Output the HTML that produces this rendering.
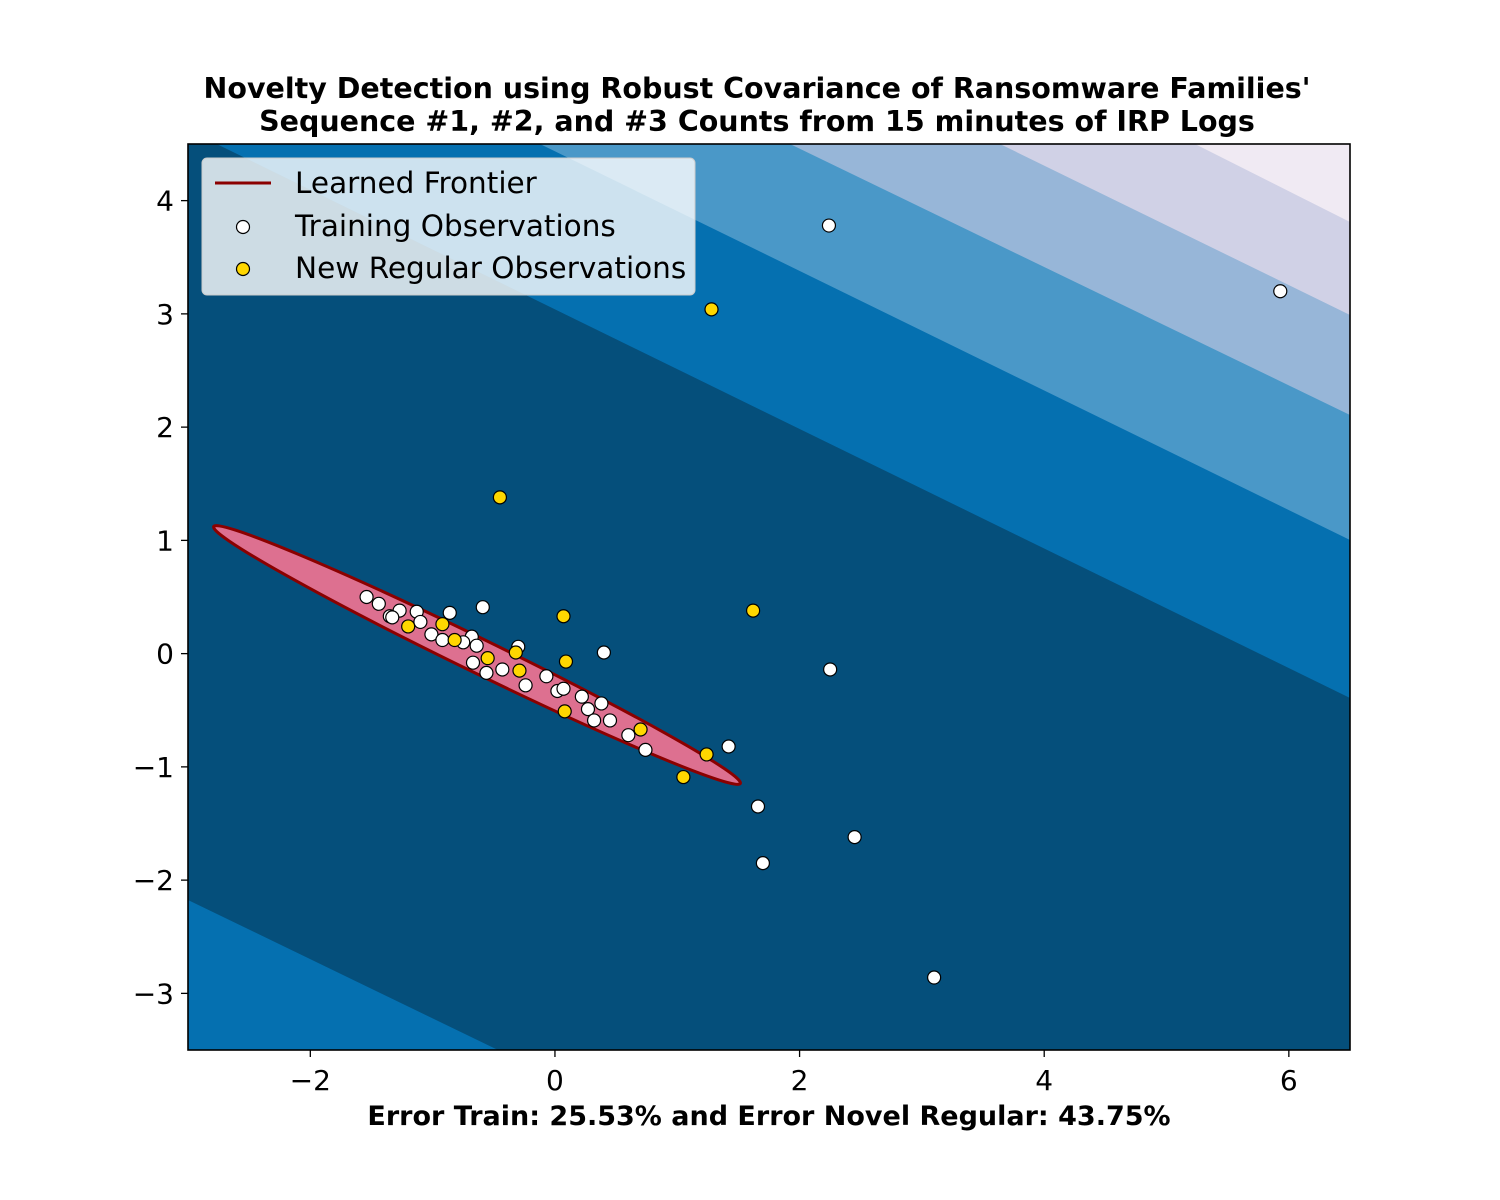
<!DOCTYPE html>
<html><head><meta charset="utf-8"><style>
body{margin:0;background:#fff;}
svg{display:block;font-family:"DejaVu Sans","Liberation Sans",sans-serif;}
</style></head><body>
<svg id="chart" width="1500" height="1200" viewBox="0 0 1500 1200">
<defs><clipPath id="clip"><rect x="188" y="144" width="1162" height="906"/></clipPath></defs>
<text x="757" y="98" text-anchor="middle" font-size="28.5" font-weight="bold">Novelty Detection using Robust Covariance of Ransomware Families'</text>
<text x="757" y="131" text-anchor="middle" font-size="28.5" font-weight="bold">Sequence #1, #2, and #3 Counts from 15 minutes of IRP Logs</text>
<g clip-path="url(#clip)">
<rect x="188" y="144" width="1162" height="906" fill="#054f7b"/>
<polygon points="188,130 188,144 1400,144 1400,722 1350,698" fill="#0570b0"/>
<polygon points="540,144 1400,144 1400,564 1350,540" fill="#4a98c8"/>
<polygon points="790,144 1400,144 1400,439 1350,415" fill="#97b6d8"/>
<polygon points="1000,144 1400,144 1400,339 1350,315" fill="#d0d1e6"/>
<polygon points="1195,144 1400,144 1400,246 1350,222" fill="#f0eaf3"/>
<polygon points="188,900 498,1050 188,1050" fill="#0570b0"/>
<ellipse cx="477" cy="655" rx="293" ry="17" transform="rotate(26 477 655)" fill="#dd7090" stroke="#8b0000" stroke-width="3"/>
<g id="pts"></g>
</g>
<rect x="188" y="144" width="1162" height="906" fill="none" stroke="#000" stroke-width="1.6"/>
<g id="axes"></g>
<g>
<rect x="202" y="158" width="493" height="137" rx="5" fill="#fff" fill-opacity="0.8" stroke="#ccc"/>
<line x1="215" y1="183" x2="271" y2="183" stroke="#8b0000" stroke-width="3"/>
<text x="295" y="193" font-size="29.5">Learned Frontier</text>
<circle cx="243" cy="227" r="6.5" fill="#fff" stroke="#000" stroke-width="1.2"/>
<text x="295" y="236" font-size="29.5">Training Observations</text>
<circle cx="243" cy="269" r="6.5" fill="#ffd700" stroke="#000" stroke-width="1.2"/>
<text x="295" y="278" font-size="29.5">New Regular Observations</text>
</g>
<text x="769" y="1125" text-anchor="middle" font-size="27" font-weight="bold">Error Train: 25.53% and Error Novel Regular: 43.75%</text>
</svg>
<script>
const trainX=[-1.54,-1.44,-1.27,-1.35,-1.13,-1.10,-0.86,-0.59,-1.01,-0.92,-0.68,-0.64,-0.75,-0.30,-0.67,-0.56,-0.43,-0.24,-0.07,0.02,0.07,0.22,0.27,0.32,0.38,0.45,0.60,0.74,0.40,1.42,1.66,1.70,2.45,2.25,2.24,5.93,3.10,-1.33];
const trainY=[0.50,0.44,0.38,0.33,0.37,0.28,0.36,0.41,0.17,0.12,0.15,0.07,0.10,0.06,-0.08,-0.17,-0.14,-0.28,-0.20,-0.33,-0.31,-0.38,-0.49,-0.59,-0.44,-0.59,-0.72,-0.85,0.01,-0.82,-1.35,-1.85,-1.62,-0.14,3.78,3.20,-2.86,0.32];
const newX=[1.28,-0.45,1.62,0.07,0.09,-0.92,-1.20,-0.82,-0.55,-0.32,-0.29,0.08,0.70,1.24,1.05];
const newY=[3.04,1.38,0.38,0.33,-0.07,0.26,0.24,0.12,-0.04,0.01,-0.15,-0.51,-0.67,-0.89,-1.09];
const xTicks=[-2,0,2,4,6];
const yTicks=[-3,-2,-1,0,1,2,3,4];
const xMin=-3,xMax=6.5,yMin=-3.5,yMax=4.5;
const L=188,R=1350,T=144,B=1050;
const sx=v=>L+(v-xMin)/(xMax-xMin)*(R-L);
const sy=v=>B-(v-yMin)/(yMax-yMin)*(B-T);
const NS="http://www.w3.org/2000/svg";
const pts=document.getElementById('pts'),axes=document.getElementById('axes');
function dot(x,y,fill,name){const c=document.createElementNS(NS,'circle');
c.setAttribute('cx',sx(x));c.setAttribute('cy',sy(y));c.setAttribute('r',6.5);
c.setAttribute('fill',fill);c.setAttribute('stroke','#000');c.setAttribute('stroke-width',1.2);


pts.appendChild(c);}
trainX.forEach((x,i)=>dot(x,trainY[i],'#fff','training-point'));
newX.forEach((x,i)=>dot(x,newY[i],'#ffd700','new-regular-point'));
const fmt=v=>v<0?'\u2212'+Math.abs(v):String(v);
xTicks.forEach(v=>{const x=sx(v);
const l=document.createElementNS(NS,'line');l.setAttribute('x1',x);l.setAttribute('x2',x);l.setAttribute('y1',B);l.setAttribute('y2',B+7);l.setAttribute('stroke','#000');l.setAttribute('stroke-width',1.3);


axes.appendChild(l);
const t=document.createElementNS(NS,'text');t.setAttribute('x',x);t.setAttribute('y',B+40);t.setAttribute('text-anchor','middle');t.setAttribute('font-size','28');t.textContent=fmt(v);


axes.appendChild(t);});
yTicks.forEach(v=>{const y=sy(v);
const l=document.createElementNS(NS,'line');l.setAttribute('x1',L-7);l.setAttribute('x2',L);l.setAttribute('y1',y);l.setAttribute('y2',y);l.setAttribute('stroke','#000');l.setAttribute('stroke-width',1.3);


axes.appendChild(l);
const t=document.createElementNS(NS,'text');t.setAttribute('x',L-14);t.setAttribute('y',y+10);t.setAttribute('text-anchor','end');t.setAttribute('font-size','28');t.textContent=fmt(v);


axes.appendChild(t);});
</script>
</body></html>
